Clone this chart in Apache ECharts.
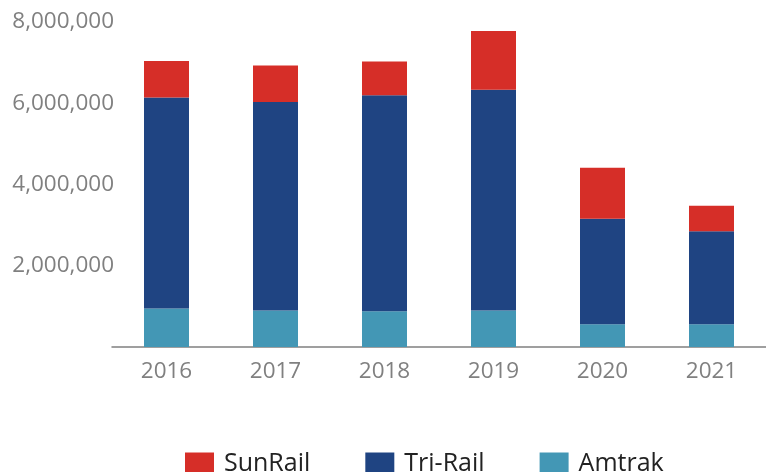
<!DOCTYPE html>
<html>
<head>
<meta charset="utf-8">
<script src="https://cdn.jsdelivr.net/npm/echarts@6/dist/echarts.min.js"></script>
<style>html,body{margin:0;padding:0;background:#fff;}#c{width:766px;height:472px;}</style>
</head>
<body>
<div id="c"></div>
<script>
const categories = ['2016', '2017', '2018', '2019', '2020', '2021'];
const amtrak = [945000, 900000, 880000, 900000, 560000, 560000];
const triRail = [5195000, 5130000, 5320000, 5430000, 2600000, 2290000];
const sunRail = [900000, 900000, 830000, 1450000, 1250000, 630000];
const yTicks = [0, 2000000, 4000000, 6000000, 8000000];

const chart = echarts.init(document.getElementById('c'));
const font = '"Open Sans", "Noto Sans", sans-serif';
chart.setOption({
  animation: false,
  grid: { left: 112, top: 22, width: 666, bottom: 125, containLabel: false },
  legend: {
    data: ['SunRail', 'Tri-Rail', 'Amtrak'],
    left: 185, top: 451, padding: 0,
    itemWidth: 29, itemHeight: 22, itemGap: 55,
    icon: 'rect',
    textStyle: { fontFamily: font, fontSize: 25, lineHeight: 22, color: '#222', padding: [0, 0, 0, 5] }
  },
  xAxis: {
    type: 'category', data: categories,
    axisLine: { lineStyle: { color: '#808080', width: 1.5 } },
    axisTick: { show: false },
    axisLabel: { fontFamily: font, fontSize: 22.5, color: '#808080', margin: 13 }
  },
  yAxis: {
    type: 'value', min: yTicks[0], max: yTicks[yTicks.length - 1], interval: 2000000,
    splitLine: { show: false },
    axisLine: { show: false },
    axisTick: { show: false },
    axisLabel: {
      fontFamily: font, fontSize: 22.5, color: '#808080', margin: -2,
      formatter: v => v === 0 ? '' : v.toLocaleString('en-US')
    }
  },
  series: [
    { name: 'Amtrak', type: 'bar', stack: 't', data: amtrak, barWidth: 45, itemStyle: { color: '#4397B5' } },
    { name: 'Tri-Rail', type: 'bar', stack: 't', data: triRail, barWidth: 45, itemStyle: { color: '#1F4482' } },
    { name: 'SunRail', type: 'bar', stack: 't', data: sunRail, barWidth: 45, itemStyle: { color: '#D62E28' } }
  ]
});
</script>
</body>
</html>
